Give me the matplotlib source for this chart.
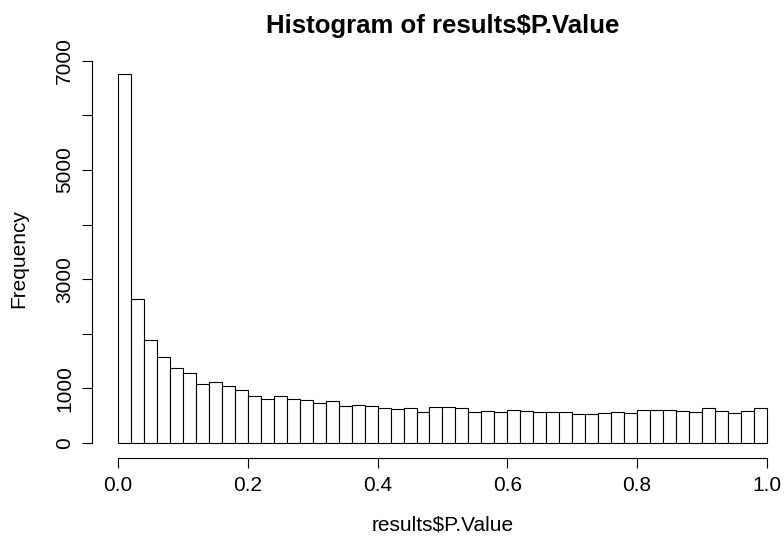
import numpy as np
import matplotlib
matplotlib.use('Agg')
import matplotlib.pyplot as plt

plt.rcParams['font.family'] = ['Liberation Sans', 'DejaVu Sans']

# histogram of p-values, 50 bins of width 0.02
bin_edges = np.linspace(0.0, 1.0, 51)
counts = [6760, 2630, 1879, 1567, 1365, 1279, 1075, 1108, 1040, 961,
          862, 807, 862, 796, 783, 723, 760, 679, 686, 668,
          631, 624, 642, 575, 661, 655, 636, 575, 587, 575,
          606, 581, 563, 569, 563, 539, 533, 557, 575, 551,
          606, 606, 600, 594, 575, 642, 587, 557, 581, 636]
y_ticks = [0, 1000, 2000, 3000, 4000, 5000, 6000, 7000]
y_labels = ['0', '1000', '', '3000', '', '5000', '', '7000']
x_ticks = [0.0, 0.2, 0.4, 0.6, 0.8, 1.0]
x_labels = ['0.0', '0.2', '0.4', '0.6', '0.8', '1.0']

W, H = 784, 538
fig = plt.figure(figsize=(W / 100, H / 100), dpi=100)
left, right, top, bottom = 92.3, 792.6, 59.1, 457.7
ax = fig.add_axes([left / W, 1 - bottom / H, (right - left) / W, (bottom - top) / H])

ax.bar(bin_edges[:-1], counts, width=0.02, align='edge',
       facecolor='white', edgecolor='black', linewidth=0.8)

ymax = max(counts)
ax.set_xlim(-0.04, 1.04)
ax.set_ylim(-0.04 * ymax, 1.04 * ymax)

for s in ['top', 'right']:
    ax.spines[s].set_visible(False)
ax.spines['left'].set_bounds(0, 7000)
ax.spines['bottom'].set_bounds(0, 1)
for s in ['left', 'bottom']:
    ax.spines[s].set_linewidth(0.8)

ax.set_xticks(x_ticks)
ax.set_xticklabels(x_labels, fontsize=15)
ax.set_yticks(y_ticks)
ax.set_yticklabels(y_labels, fontsize=15, rotation=90, va='center')
ax.tick_params(length=7.2, width=0.8, pad=6)

ax.set_xlabel('results$P.Value', fontsize=15, labelpad=15)
ax.set_ylabel('Frequency', fontsize=15, labelpad=19)
ax.set_title('Histogram of results$P.Value', fontsize=18.5, fontweight='bold', pad=19)

fig.savefig('out.png', dpi=100)
